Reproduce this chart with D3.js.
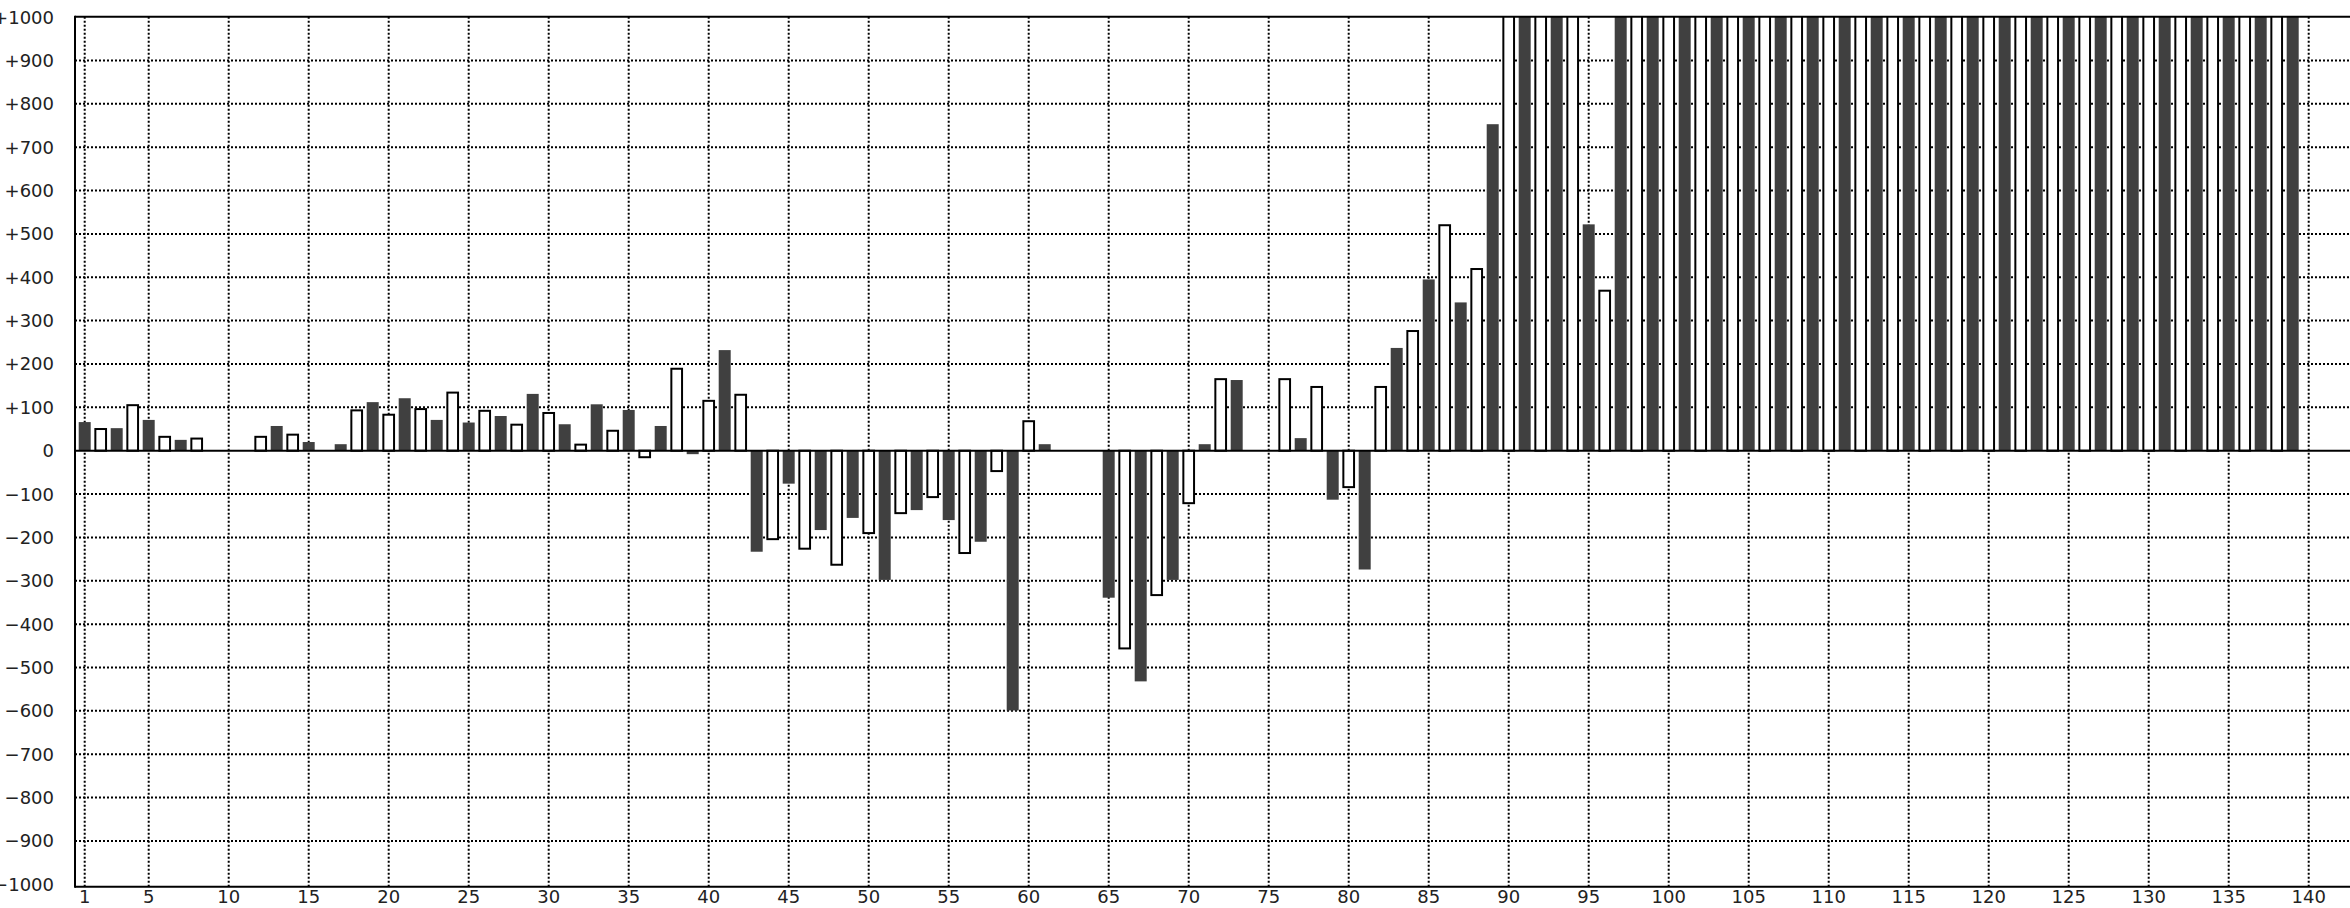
<!DOCTYPE html>
<html><head><meta charset="utf-8">
<script src="https://cdn.jsdelivr.net/npm/d3@7/dist/d3.min.js"></script>
<style>html,body{margin:0;padding:0;background:#fff;overflow:hidden}</style>
</head><body>
<svg id="chart" width="2350" height="908"></svg>
<script>
// ---- data ----
const categories = d3.range(1, 141);
const OVER = 1100; // bars that run off the top of the scale (value above +1000)
const values = [
  66, 50, 52, 105, 71, 32, 25, 28, null, null,
  null, 32, 57, 37, 20, null, 15, 93, 112, 83,
  121, 96, 71, 134, 65, 92, 80, 60, 131, 87,
  61, 14, 107, 46, 94, -15, 57, 189, -8, 115,
  232, 129, -233, -204, -76, -226, -183, -263, -155, -190,
  -298, -144, -137, -107, -160, -236, -210, -47, -599, 68,
  15, null, null, null, -339, -456, -532, -333, -298, -121,
  15, 165, 163, null, null, 165, 29, 147, -113, -84,
  -274, 147, 237, 276, 395, 520, 342, 419, 753, OVER,
  OVER, OVER, OVER, OVER, 522, 369, OVER, OVER, OVER, OVER,
  OVER, OVER, OVER, OVER, OVER, OVER, OVER, OVER, OVER, OVER,
  OVER, OVER, OVER, OVER, OVER, OVER, OVER, OVER, OVER, OVER,
  OVER, OVER, OVER, OVER, OVER, OVER, OVER, OVER, OVER, OVER,
  OVER, OVER, OVER, OVER, OVER, OVER, OVER, OVER, OVER, null
];
const xTickValues = [1, 5, 10, 15, 20, 25, 30, 35, 40, 45, 50, 55, 60, 65, 70, 75, 80, 85, 90, 95, 100, 105, 110, 115, 120, 125, 130, 135, 140];
const yTickValues = d3.range(-1000, 1001, 100);

// ---- layout ----
const W = 2350, H = 908;
const plotLeft = 75, plotRight = 2350;
const x = d3.scaleLinear().domain([1, 140]).range([84.7, 2308.7]);
const y = d3.scaleLinear().domain([-1000, 1000]).range([884.3, 17.1]);
const frameTop = 16.7, frameBottom = 886.7;
const darkFill = "#404040";
const step = x(2) - x(1);
const darkW = step * 0.75;
const whiteW = darkW - 1.3;

const svg = d3.select("#chart");

svg.append("defs").append("clipPath").attr("id", "plotclip")
  .append("rect").attr("x", plotLeft).attr("y", frameTop)
  .attr("width", plotRight - plotLeft).attr("height", frameBottom - frameTop);

// grid
const grid = svg.append("g").attr("stroke", "#000").attr("stroke-width", 2)
  .attr("stroke-dasharray", "2,2");
grid.selectAll("line.h").data(yTickValues.filter(v => v !== 0 && Math.abs(v) !== 1000))
  .join("line").attr("class", "h")
  .attr("x1", plotLeft).attr("x2", plotRight)
  .attr("y1", d => y(d)).attr("y2", d => y(d));
grid.selectAll("line.v").data(xTickValues)
  .join("line").attr("class", "v")
  .attr("x1", d => x(d)).attr("x2", d => x(d))
  .attr("y1", frameTop).attr("y2", frameBottom);

// bars
const data = categories.map((c, i) => ({c, v: values[i]})).filter(d => d.v !== null);
const bars = svg.append("g").attr("clip-path", "url(#plotclip)");
bars.selectAll("rect.dark").data(data.filter(d => d.c % 2 === 1))
  .join("rect").attr("class", "dark")
  .attr("x", d => x(d.c) - darkW / 2).attr("width", darkW)
  .attr("y", d => Math.min(y(d.v), y(0)))
  .attr("height", d => Math.abs(y(d.v) - y(0)))
  .attr("fill", darkFill);
bars.selectAll("rect.white").data(data.filter(d => d.c % 2 === 0))
  .join("rect").attr("class", "white")
  .attr("x", d => x(d.c) - whiteW / 2).attr("width", whiteW)
  .attr("y", d => Math.min(y(d.v), y(0)))
  .attr("height", d => Math.abs(y(d.v) - y(0)))
  .attr("fill", "#fff").attr("stroke", "#000").attr("stroke-width", 2);

// zero line
svg.append("line").attr("x1", plotLeft).attr("x2", plotRight)
  .attr("y1", y(0)).attr("y2", y(0)).attr("stroke", "#000").attr("stroke-width", 2);

// frame
const frame = svg.append("g").attr("stroke", "#000").attr("stroke-width", 2);
frame.append("line").attr("x1", plotLeft).attr("x2", plotLeft).attr("y1", frameTop - 1).attr("y2", frameBottom + 1);
frame.append("line").attr("x1", plotLeft).attr("x2", plotRight).attr("y1", frameTop).attr("y2", frameTop);
frame.append("line").attr("x1", plotLeft).attr("x2", plotRight).attr("y1", frameBottom).attr("y2", frameBottom);

// labels
const fmt = v => v === 0 ? "0" : d3.format("+")(v);
svg.append("g").attr("font-family", "DejaVu Sans").attr("font-size", 18).attr("fill", "#222")
  .attr("text-anchor", "end")
  .selectAll("text").data(yTickValues).join("text")
  .attr("x", 54).attr("y", d => y(d)).attr("dy", "0.36em").text(fmt);
svg.append("g").attr("font-family", "DejaVu Sans").attr("font-size", 18).attr("fill", "#222")
  .attr("text-anchor", "middle")
  .selectAll("text").data(xTickValues).join("text")
  .attr("x", d => x(d)).attr("y", 903).text(d => d);
</script>
</body></html>
